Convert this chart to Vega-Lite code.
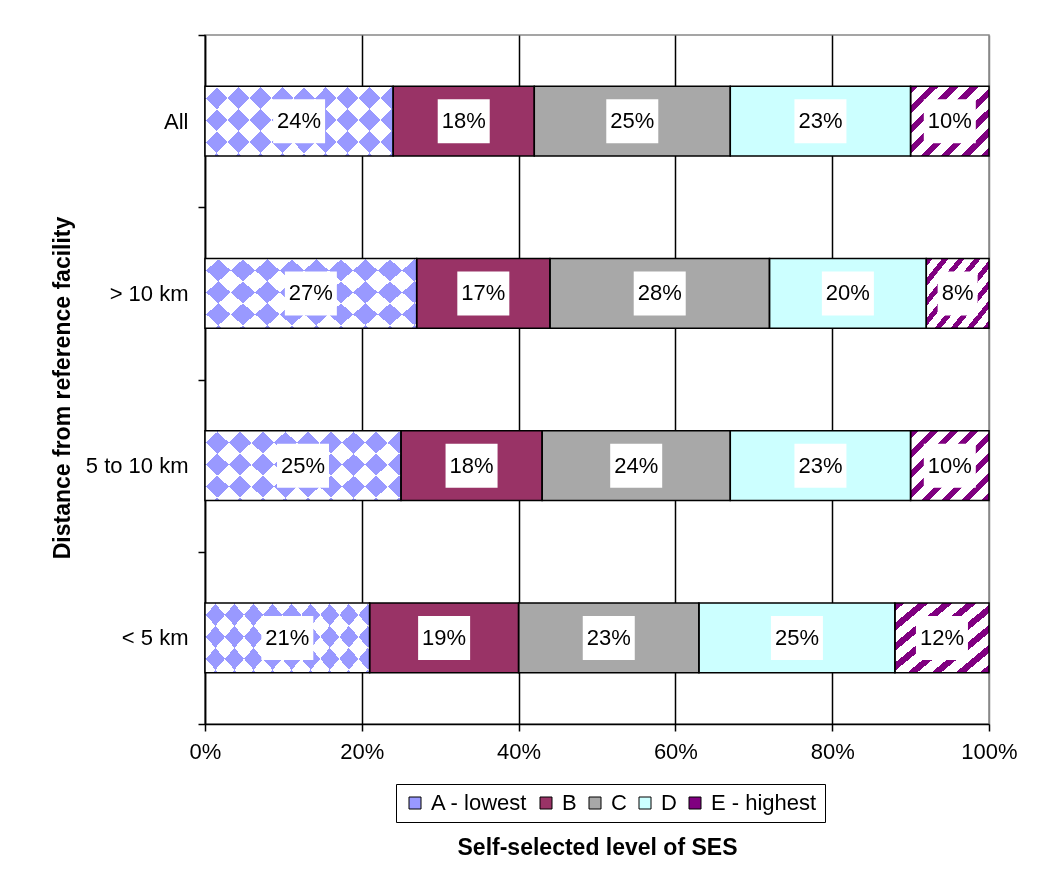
{
  "$schema": "https://vega.github.io/schema/vega-lite/v6.json",
  "width": 784,
  "height": 689,
  "autosize": {"type": "none"},
  "padding": {"left": 205, "top": 35, "right": 61, "bottom": 146},
  "background": "white",
  "config": {
    "font": "Liberation Sans",
    "view": {"stroke": "#888888", "strokeWidth": 1.5}
  },
  "data": {
    "values": [
      {"dist": "All", "level": "A - lowest", "v": 0.24},
      {"dist": "All", "level": "B", "v": 0.18},
      {"dist": "All", "level": "C", "v": 0.25},
      {"dist": "All", "level": "D", "v": 0.23},
      {"dist": "All", "level": "E - highest", "v": 0.10},
      {"dist": "> 10 km", "level": "A - lowest", "v": 0.27},
      {"dist": "> 10 km", "level": "B", "v": 0.17},
      {"dist": "> 10 km", "level": "C", "v": 0.28},
      {"dist": "> 10 km", "level": "D", "v": 0.20},
      {"dist": "> 10 km", "level": "E - highest", "v": 0.08},
      {"dist": "5 to 10 km", "level": "A - lowest", "v": 0.25},
      {"dist": "5 to 10 km", "level": "B", "v": 0.18},
      {"dist": "5 to 10 km", "level": "C", "v": 0.24},
      {"dist": "5 to 10 km", "level": "D", "v": 0.23},
      {"dist": "5 to 10 km", "level": "E - highest", "v": 0.10},
      {"dist": "< 5 km", "level": "A - lowest", "v": 0.21},
      {"dist": "< 5 km", "level": "B", "v": 0.19},
      {"dist": "< 5 km", "level": "C", "v": 0.23},
      {"dist": "< 5 km", "level": "D", "v": 0.25},
      {"dist": "< 5 km", "level": "E - highest", "v": 0.12}
    ]
  },
  "transform": [
    {"stack": "v", "groupby": ["dist"], "sort": [{"field": "level", "order": "ascending"}], "as": ["x0", "x1"]},
    {"calculate": "(datum.x0 + datum.x1) / 2", "as": "mid"}
  ],
  "encoding": {
    "y": {
      "field": "dist",
      "type": "nominal",
      "sort": ["All", "> 10 km", "5 to 10 km", "< 5 km"],
      "scale": {"paddingInner": 0, "paddingOuter": 0},
      "axis": {
        "title": "Distance from reference facility",
        "titleFontSize": 23,
        "titleFontWeight": "bold",
        "titleColor": "black",
        "titleX": -131,
        "titleY": 352.5,
        "labelFontSize": 22,
        "labelColor": "black",
        "labelPadding": 10,
        "tickBand": "extent",
        "tickSize": 7,
        "tickColor": "black",
        "tickWidth": 1.5,
        "domainColor": "black",
        "domainWidth": 1.5,
        "grid": false
      }
    }
  },
  "layer": [
    {
      "mark": {"type": "bar", "height": {"band": 0.406}},
      "encoding": {
        "x": {
          "field": "x0",
          "type": "quantitative",
          "scale": {"domain": [0, 1], "nice": false},
          "title": "Self-selected level of SES",
          "axis": {
            "format": ".0%",
            "values": [0, 0.2, 0.4, 0.6, 0.8, 1],
            "labelFontSize": 22,
            "labelColor": "black",
            "labelPadding": 10,
            "labelFlush": false,
            "tickSize": 7,
            "tickColor": "black",
            "tickWidth": 1.5,
            "domainColor": "black",
            "domainWidth": 1.5,
            "grid": true,
            "gridColor": {"condition": {"test": "datum.value >= 1", "value": "#888888"}, "value": "black"},
            "gridWidth": 1.5,
            "titleFontSize": 23,
            "titleFontWeight": "bold",
            "titleColor": "black",
            "titleY": 112
          }
        },
        "x2": {"field": "x1"},
        "color": {
          "field": "level",
          "type": "nominal",
          "scale": {
            "domain": ["A - lowest", "B", "C", "D", "E - highest"],
            "range": ["#9999ff", "#993366", "#a8a8a8", "#ccffff", "#800080"]
          },
          "legend": {
            "title": null,
            "orient": "none",
            "legendX": 191,
            "legendY": 749,
            "direction": "horizontal",
            "columns": 5,
            "strokeColor": "black",
            "fillColor": "white",
            "padding": 8,
            "symbolType": "square",
            "symbolSize": 144,
            "symbolStrokeColor": "black",
            "symbolStrokeWidth": 1,
            "symbolOpacity": 1,
            "labelFontSize": 22,
            "labelColor": "black",
            "labelOffset": 5,
            "columnPadding": 7
          }
        }
      }
    },
    {
      "transform": [{"filter": "datum.level === 'A - lowest'"}],
      "mark": {"type": "bar", "height": {"band": 0.406}, "fill": "white"},
      "encoding": {
        "x": {"field": "x0", "type": "quantitative", "title": "Self-selected level of SES"},
        "x2": {"field": "x1"}
      }
    },
    {
      "transform": [{"filter": "datum.level === 'A - lowest'"}],
      "mark": {
        "type": "bar",
        "height": {"band": 0.406},
        "blend": "exclusion",
        "fill": {
          "gradient": "linear", "x1": -0.1632, "y1": 0, "x2": 1.3198, "y2": 0.5463,
          "stops": [
            {"offset": 0, "color": "#ffffff"}, {"offset": 0.06875, "color": "#ffffff"},
            {"offset": 0.06875, "color": "#000000"}, {"offset": 0.1375, "color": "#000000"},
            {"offset": 0.1375, "color": "#ffffff"}, {"offset": 0.20625, "color": "#ffffff"},
            {"offset": 0.20625, "color": "#000000"}, {"offset": 0.275, "color": "#000000"},
            {"offset": 0.275, "color": "#ffffff"}, {"offset": 0.34375, "color": "#ffffff"},
            {"offset": 0.34375, "color": "#000000"}, {"offset": 0.4125, "color": "#000000"},
            {"offset": 0.4125, "color": "#ffffff"}, {"offset": 0.48125, "color": "#ffffff"},
            {"offset": 0.48125, "color": "#000000"}, {"offset": 0.55, "color": "#000000"},
            {"offset": 0.55, "color": "#ffffff"}, {"offset": 0.61875, "color": "#ffffff"},
            {"offset": 0.61875, "color": "#000000"}, {"offset": 0.6875, "color": "#000000"},
            {"offset": 0.6875, "color": "#ffffff"}, {"offset": 0.75625, "color": "#ffffff"},
            {"offset": 0.75625, "color": "#000000"}, {"offset": 0.825, "color": "#000000"},
            {"offset": 0.825, "color": "#ffffff"}, {"offset": 0.89375, "color": "#ffffff"},
            {"offset": 0.89375, "color": "#000000"}, {"offset": 0.9625, "color": "#000000"},
            {"offset": 0.9625, "color": "#ffffff"}, {"offset": 1, "color": "#ffffff"}
          ]
        }
      },
      "encoding": {
        "x": {"field": "x0", "type": "quantitative", "title": "Self-selected level of SES"},
        "x2": {"field": "x1"}
      }
    },
    {
      "transform": [{"filter": "datum.level === 'A - lowest'"}],
      "mark": {
        "type": "bar",
        "height": {"band": 0.406},
        "blend": "exclusion",
        "fill": {
          "gradient": "linear", "x1": -0.0368, "y1": 1, "x2": 1.4462, "y2": 0.4537,
          "stops": [
            {"offset": 0, "color": "#ffffff"}, {"offset": 0.06875, "color": "#ffffff"},
            {"offset": 0.06875, "color": "#000000"}, {"offset": 0.1375, "color": "#000000"},
            {"offset": 0.1375, "color": "#ffffff"}, {"offset": 0.20625, "color": "#ffffff"},
            {"offset": 0.20625, "color": "#000000"}, {"offset": 0.275, "color": "#000000"},
            {"offset": 0.275, "color": "#ffffff"}, {"offset": 0.34375, "color": "#ffffff"},
            {"offset": 0.34375, "color": "#000000"}, {"offset": 0.4125, "color": "#000000"},
            {"offset": 0.4125, "color": "#ffffff"}, {"offset": 0.48125, "color": "#ffffff"},
            {"offset": 0.48125, "color": "#000000"}, {"offset": 0.55, "color": "#000000"},
            {"offset": 0.55, "color": "#ffffff"}, {"offset": 0.61875, "color": "#ffffff"},
            {"offset": 0.61875, "color": "#000000"}, {"offset": 0.6875, "color": "#000000"},
            {"offset": 0.6875, "color": "#ffffff"}, {"offset": 0.75625, "color": "#ffffff"},
            {"offset": 0.75625, "color": "#000000"}, {"offset": 0.825, "color": "#000000"},
            {"offset": 0.825, "color": "#ffffff"}, {"offset": 0.89375, "color": "#ffffff"},
            {"offset": 0.89375, "color": "#000000"}, {"offset": 0.9625, "color": "#000000"},
            {"offset": 0.9625, "color": "#ffffff"}, {"offset": 1, "color": "#ffffff"}
          ]
        }
      },
      "encoding": {
        "x": {"field": "x0", "type": "quantitative", "title": "Self-selected level of SES"},
        "x2": {"field": "x1"}
      }
    },
    {
      "transform": [{"filter": "datum.level === 'A - lowest'"}],
      "mark": {"type": "bar", "height": {"band": 0.406}, "blend": "lighten", "fill": "#9999ff"},
      "encoding": {
        "x": {"field": "x0", "type": "quantitative", "title": "Self-selected level of SES"},
        "x2": {"field": "x1"}
      }
    },
    {
      "transform": [{"filter": "datum.level === 'E - highest'"}],
      "mark": {
        "type": "bar",
        "height": {"band": 0.406},
        "fill": {
          "gradient": "linear", "x1": 0, "y1": 0, "x2": 1.051, "y2": 0.943,
          "stops": [
            {"offset": 0, "color": "#800080"}, {"offset": 0.055, "color": "#800080"},
            {"offset": 0.055, "color": "#ffffff"}, {"offset": 0.135, "color": "#ffffff"},
            {"offset": 0.135, "color": "#800080"}, {"offset": 0.19, "color": "#800080"},
            {"offset": 0.19, "color": "#ffffff"}, {"offset": 0.27, "color": "#ffffff"},
            {"offset": 0.27, "color": "#800080"}, {"offset": 0.325, "color": "#800080"},
            {"offset": 0.325, "color": "#ffffff"}, {"offset": 0.405, "color": "#ffffff"},
            {"offset": 0.405, "color": "#800080"}, {"offset": 0.46, "color": "#800080"},
            {"offset": 0.46, "color": "#ffffff"}, {"offset": 0.54, "color": "#ffffff"},
            {"offset": 0.54, "color": "#800080"}, {"offset": 0.595, "color": "#800080"},
            {"offset": 0.595, "color": "#ffffff"}, {"offset": 0.675, "color": "#ffffff"},
            {"offset": 0.675, "color": "#800080"}, {"offset": 0.73, "color": "#800080"},
            {"offset": 0.73, "color": "#ffffff"}, {"offset": 0.81, "color": "#ffffff"},
            {"offset": 0.81, "color": "#800080"}, {"offset": 0.865, "color": "#800080"},
            {"offset": 0.865, "color": "#ffffff"}, {"offset": 0.945, "color": "#ffffff"},
            {"offset": 0.945, "color": "#800080"}, {"offset": 1, "color": "#800080"}
          ]
        }
      },
      "encoding": {
        "x": {"field": "x0", "type": "quantitative", "title": "Self-selected level of SES"},
        "x2": {"field": "x1"}
      }
    },
    {
      "mark": {"type": "bar", "height": {"band": 0.406}, "filled": false, "stroke": "black", "strokeWidth": 1.5},
      "encoding": {
        "x": {"field": "x0", "type": "quantitative", "title": "Self-selected level of SES"},
        "x2": {"field": "x1"}
      }
    },
    {
      "mark": {"type": "point", "filled": true, "fill": "white", "opacity": 1, "strokeWidth": 0, "size": 1936},
      "encoding": {
        "x": {"field": "mid", "type": "quantitative", "title": "Self-selected level of SES"},
        "shape": {
          "condition": {"test": "datum.v < 0.095", "value": "M-0.909,-1H0.909V1H-0.909Z"},
          "value": "M-1.182,-1H1.182V1H-1.182Z"
        }
      }
    },
    {
      "mark": {"type": "text", "fontSize": 22, "color": "black", "baseline": "middle", "align": "center"},
      "encoding": {
        "x": {"field": "mid", "type": "quantitative", "title": "Self-selected level of SES"},
        "text": {"field": "v", "type": "quantitative", "format": ".0%"}
      }
    }
  ]
}
